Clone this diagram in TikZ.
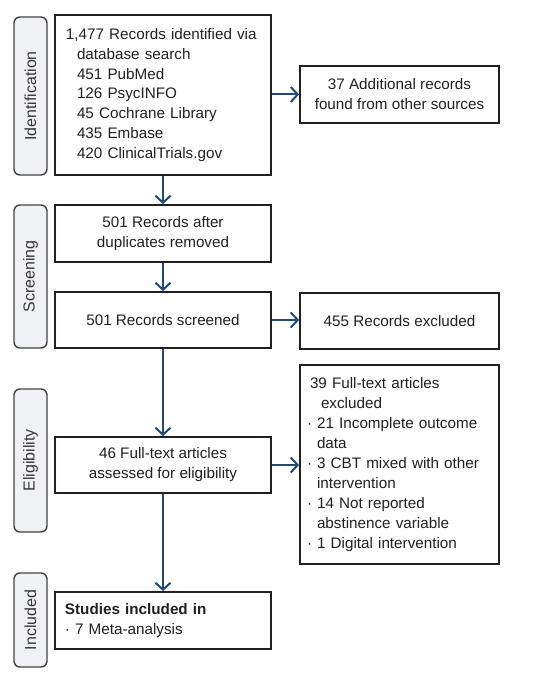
\documentclass[tikz,border=0pt]{standalone}
\usepackage{fontspec}
\setmainfont{Liberation Sans}
\usetikzlibrary{arrows.meta,positioning}

\definecolor{flowblue}{HTML}{1F4B7A}
\definecolor{stagegray}{HTML}{EFF1F4}
\definecolor{inkblack}{HTML}{231F20}
\newcommand{\indnt}[1]{\mbox{}\hspace{#1}}

\begin{document}
\begin{tikzpicture}[x=1bp, y=-1bp,
  box/.style={draw=inkblack, line width=1.8bp, rectangle, minimum width=216bp, minimum height=57bp, text=inkblack, font=\fontsize{15.3}{20}\selectfont, align=center, inner sep=0pt},
  listbox/.style={box, align=left, text width=194bp, inner xsep=11bp},
  sidebox/.style={box, minimum width=199bp},
  stage/.style={draw=inkblack!85, fill=stagegray, line width=1.4bp, rounded corners=6bp, rotate=90, minimum height=33bp, inner sep=0pt, text=inkblack!90, font=\fontsize{16}{18}\selectfont},
  arrow/.style={-{Straight Barb[length=7bp,width=15bp]}, line width=2bp, flowblue}
]
\useasboundingbox (0,0) rectangle (542,679);

% Stage labels on the left
\node[stage, minimum width=158bp] (sIdent) at (30.5, 96) {Identification};
\node[stage, minimum width=143bp] (sScreen) at (30.5, 276.5) {Screening};
\node[stage, minimum width=143bp] (sElig) at (30.5, 460.5) {Eligibility};
\node[stage, minimum width=94bp] (sIncl) at (30.5, 620) {Included};

% Main column
\node[listbox, minimum height=160bp] (search) at (163, 95) {1,477 Records identified via\\
  \indnt{11bp}database search\\
  \indnt{11bp}451 PubMed\\
  \indnt{11bp}126 PsycINFO\\
  \indnt{11bp}45 Cochrane Library\\
  \indnt{11bp}435 Embase\\
  \indnt{11bp}420 ClinicalTrials.gov};
\node[box] (dedup) at (163, 233.5) {501 Records after\\duplicates removed};
\node[box, minimum height=56bp] (screened) at (163, 320) {501 Records screened};
\node[box, minimum height=56bp] (fulltext) at (163, 465) {46 Full-text articles\\assessed for eligibility};
\node[listbox, inner xsep=10bp, text width=196bp] (included) at (163, 620.5) {\textbf{Studies included in}\\
  · 7 Meta-analysis};

% Side column
\node[sidebox] (other) at (399.5, 94.5) {37 Additional records\\found from other sources};
\node[sidebox, minimum height=56bp] (excluded) at (399.5, 321) {455 Records excluded};
\node[sidebox, align=left, text width=185bp, inner xsep=7bp, minimum height=199bp] (ftexcl) at (399.5, 464.5) {\indnt{3bp}39 Full-text articles\\
  \indnt{14bp}excluded\\
  · 21 Incomplete outcome\\
  \indnt{10bp}data\\
  · 3 CBT mixed with other\\
  \indnt{10bp}intervention\\
  · 14 Not reported\\
  \indnt{10bp}abstinence variable\\
  · 1 Digital intervention};

% Connectors
\draw[arrow] (search) -- (dedup);
\draw[arrow] (dedup) -- (screened);
\draw[arrow] (screened) -- (fulltext);
\draw[arrow] (fulltext) -- (included);
\draw[arrow] (search.east |- other.west) -- (other.west);
\draw[arrow] (screened.east) -- (excluded.west |- screened.east);
\draw[arrow] (fulltext.east) -- (ftexcl.west |- fulltext.east);
\end{tikzpicture}
\end{document}
